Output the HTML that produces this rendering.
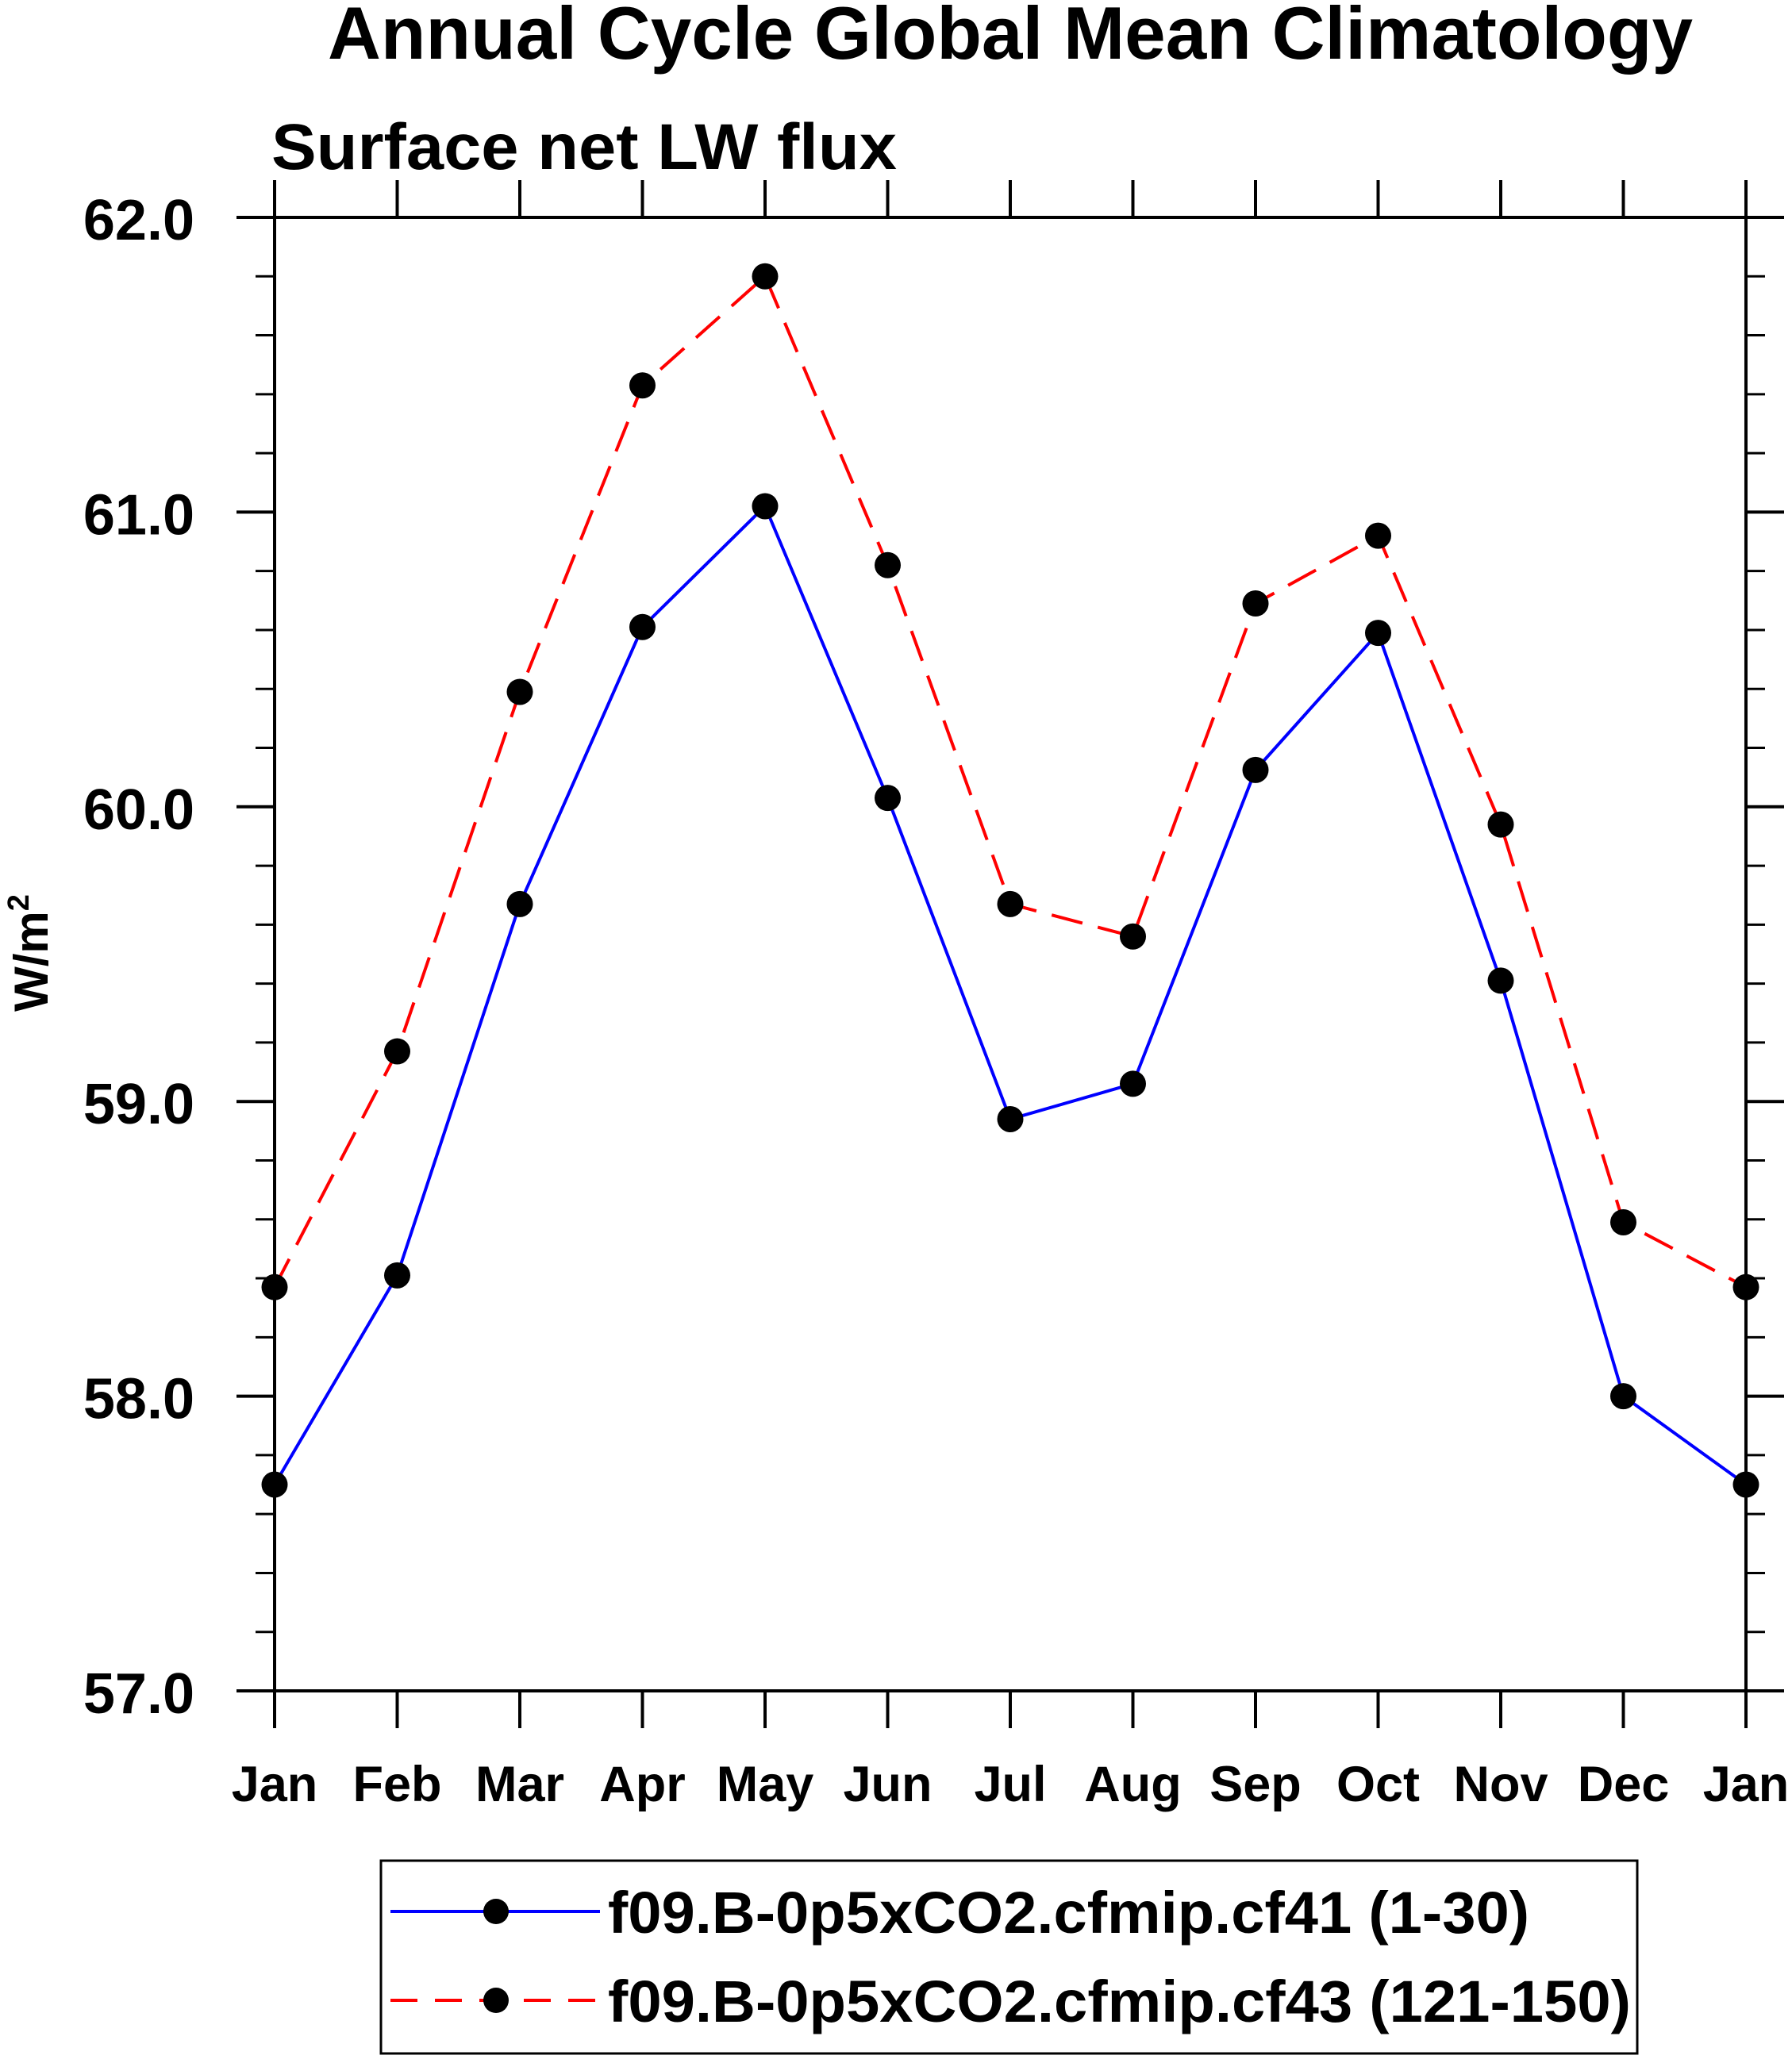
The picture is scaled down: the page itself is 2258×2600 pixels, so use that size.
<!DOCTYPE html>
<html><head><meta charset="utf-8"><style>
html,body{margin:0;padding:0;background:#fff;}
svg{display:block;font-family:"Liberation Sans",sans-serif;font-weight:bold;}
</style></head><body>
<svg id="chart" width="2258" height="2600" viewBox="0 0 2258 2600" xmlns="http://www.w3.org/2000/svg">
<text x="1273" y="74" font-size="94" text-anchor="middle" textLength="1720" lengthAdjust="spacingAndGlyphs">Annual Cycle Global Mean Climatology</text>
<text x="342" y="213" font-size="82" textLength="788" lengthAdjust="spacingAndGlyphs">Surface net LW flux</text>
<text transform="translate(60,1201) rotate(-90)" font-size="60" text-anchor="middle">W/m<tspan font-size="38" dy="-24">2</tspan></text>
<g id="axes"></g>
<g id="series"></g>
<g>
<rect x="480" y="2345" width="1583" height="243" fill="none" stroke="#000" stroke-width="3"/>
<g>
<line x1="492" y1="2409" x2="756" y2="2409" stroke="#0000ff" stroke-width="4"/>
<circle cx="625" cy="2409" r="16" fill="#000"/>
<text x="766" y="2436" font-size="74" textLength="1161" lengthAdjust="spacingAndGlyphs">f09.B-0p5xCO2.cfmip.cf41 (1-30)</text>
</g>
<g>
<line x1="492" y1="2521" x2="756" y2="2521" stroke="#ff0000" stroke-width="4" stroke-dasharray="34,22"/>
<circle cx="625" cy="2521" r="16" fill="#000"/>
<text x="766" y="2548" font-size="74" textLength="1289" lengthAdjust="spacingAndGlyphs">f09.B-0p5xCO2.cfmip.cf43 (121-150)</text>
</g>
</g>
</svg>
<script>
const months = ["Jan","Feb","Mar","Apr","May","Jun","Jul","Aug","Sep","Oct","Nov","Dec","Jan"];
const cf41 = [57.70,58.41,59.67,60.61,61.02,60.03,58.94,59.06,60.125,60.59,59.41,58.00,57.70];
const cf43 = [58.37,59.17,60.39,61.43,61.80,60.82,59.67,59.56,60.69,60.92,59.94,58.59,58.37];
const yTicks = ["57.0","58.0","59.0","60.0","61.0","62.0"];
const yMin = 57, yMax = 62;

const L=346,R=2200,T=274,B=2131;
const NS="http://www.w3.org/2000/svg";
function x(i){return L+(R-L)*i/(months.length-1);}
function y(v){return B-(B-T)*(v-yMin)/(yMax-yMin);}
function mk(tag,attrs,parent){const e=document.createElementNS(NS,tag);for(const k in attrs)e.setAttribute(k,attrs[k]);parent.appendChild(e);return e;}
const axes=document.getElementById('axes');
const series=document.getElementById('series');

const frame=mk('rect',{x:L,y:T,width:R-L,height:B-T,fill:'none',stroke:'#000','stroke-width':4},axes);



for(let i=0;i<months.length;i++){
  const xi=x(i);
  const t1=mk('line',{x1:xi,y1:B,x2:xi,y2:B+47,stroke:'#000','stroke-width':4},axes);
  
  
  const t2=mk('line',{x1:xi,y1:T,x2:xi,y2:T-47,stroke:'#000','stroke-width':4},axes);
  
  
  const lb=mk('text',{x:xi,y:2270,'font-size':63,'text-anchor':'middle'},axes);
  lb.textContent=months[i];
  
  
}
for(let v=yMin;v<=yMax+1e-6;v+=0.2){
  const major=Math.abs(v-Math.round(v))<1e-6;
  const len=major?48:24, yy=y(v);
  const a=mk('line',{x1:L,y1:yy,x2:L-len,y2:yy,stroke:'#000','stroke-width':major?4:3},axes);
  
  
  const b=mk('line',{x1:R,y1:yy,x2:R+len,y2:yy,stroke:'#000','stroke-width':major?4:3},axes);
  
  
}
yTicks.forEach(s=>{
  const lb=mk('text',{x:245,y:y(parseFloat(s))+28,'font-size':72,'text-anchor':'end'},axes);
  lb.textContent=s;
  
  
});

function draw(vals,color,dash,name){
  const g=mk('g',{},series);
  
  
  const pts=vals.map((v,i)=>x(i)+','+y(v)).join(' ');
  const pl=mk('polyline',{points:pts,fill:'none',stroke:color,'stroke-width':4,'stroke-dasharray':dash,'stroke-linejoin':'round'},g);
  
  
  vals.forEach((v,i)=>{
    const c=mk('circle',{cx:x(i),cy:y(v),r:16.5,fill:'#000'},g);
    
    
  });
}
draw(cf43,'#ff0000','40,20','series-cf43');
draw(cf41,'#0000ff','none','series-cf41');
</script>
</body></html>
